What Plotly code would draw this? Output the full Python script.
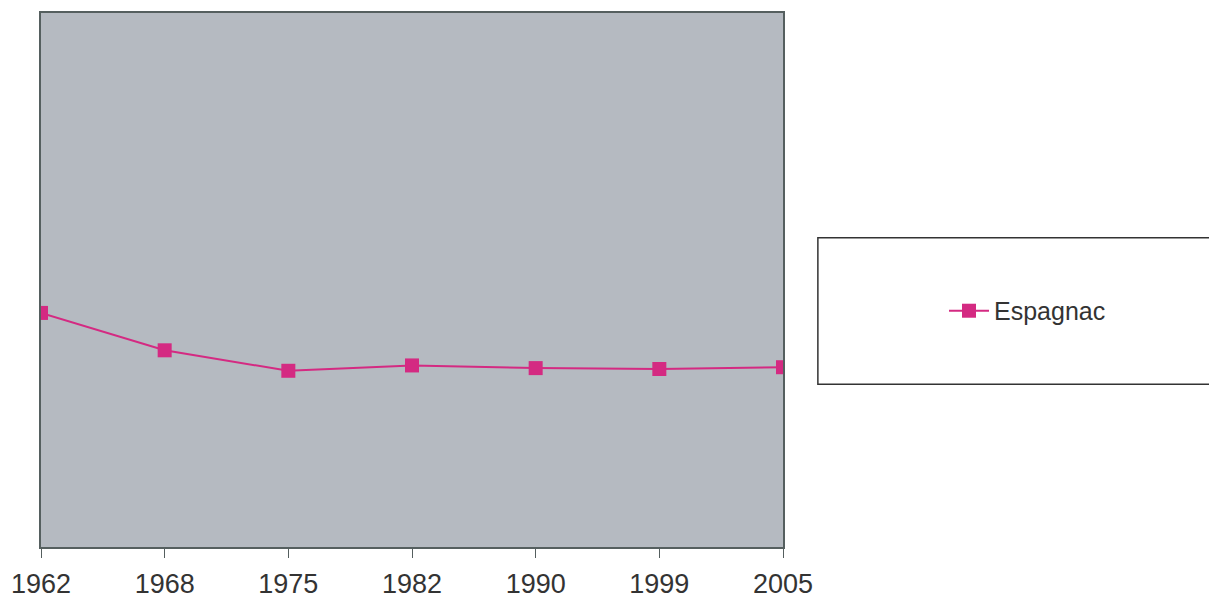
import plotly.graph_objects as go

years = ["1962", "1968", "1975", "1982", "1990", "1999", "2005"]
population = [263, 221, 198, 204, 201, 200, 202]
series_name = "Espagnac"

fig = go.Figure()
fig.add_trace(go.Scatter(
    x=years, y=population, name=series_name, mode="lines+markers",
    line=dict(color="#D42A82", width=2),
    marker=dict(symbol="square", size=14, color="#D42A82"),
))

fig.add_shape(type="rect", xref="paper", yref="paper",
              x0=1.047, x1=1.62, y0=0.305, y1=0.579,
              line=dict(color="#333333", width=1.5), fillcolor="white", layer="below")

fig.update_layout(
    width=1209, height=590,
    margin=dict(l=33, r=434, t=5, b=51, autoexpand=False),
    paper_bgcolor="white", plot_bgcolor="#B5BAC1",
    showlegend=True,
    legend=dict(x=1.217, y=0.442, xanchor="left", yanchor="middle", itemwidth=40,
                bgcolor="rgba(0,0,0,0)", borderwidth=0,
                font=dict(family="Liberation Sans, Arial", size=25, color="#333333")),
    font=dict(family="Liberation Sans, Arial", color="#333333"),
)
fig.update_xaxes(type="category", range=[0, 6], showgrid=False, zeroline=False,
                 showline=True, linecolor="#555f5f", linewidth=1.5, mirror=True,
                 ticks="outside", ticklen=9, tickcolor="#555f5f", ticklabelstandoff=3,
                 automargin=False,
                 tickfont=dict(size=27, color="#333333"))
fig.update_yaxes(range=[0, 600], showgrid=False, zeroline=False, showticklabels=False,
                 automargin=False,
                 showline=True, linecolor="#555f5f", linewidth=1.5, mirror=True)

fig.write_html("out.html")
